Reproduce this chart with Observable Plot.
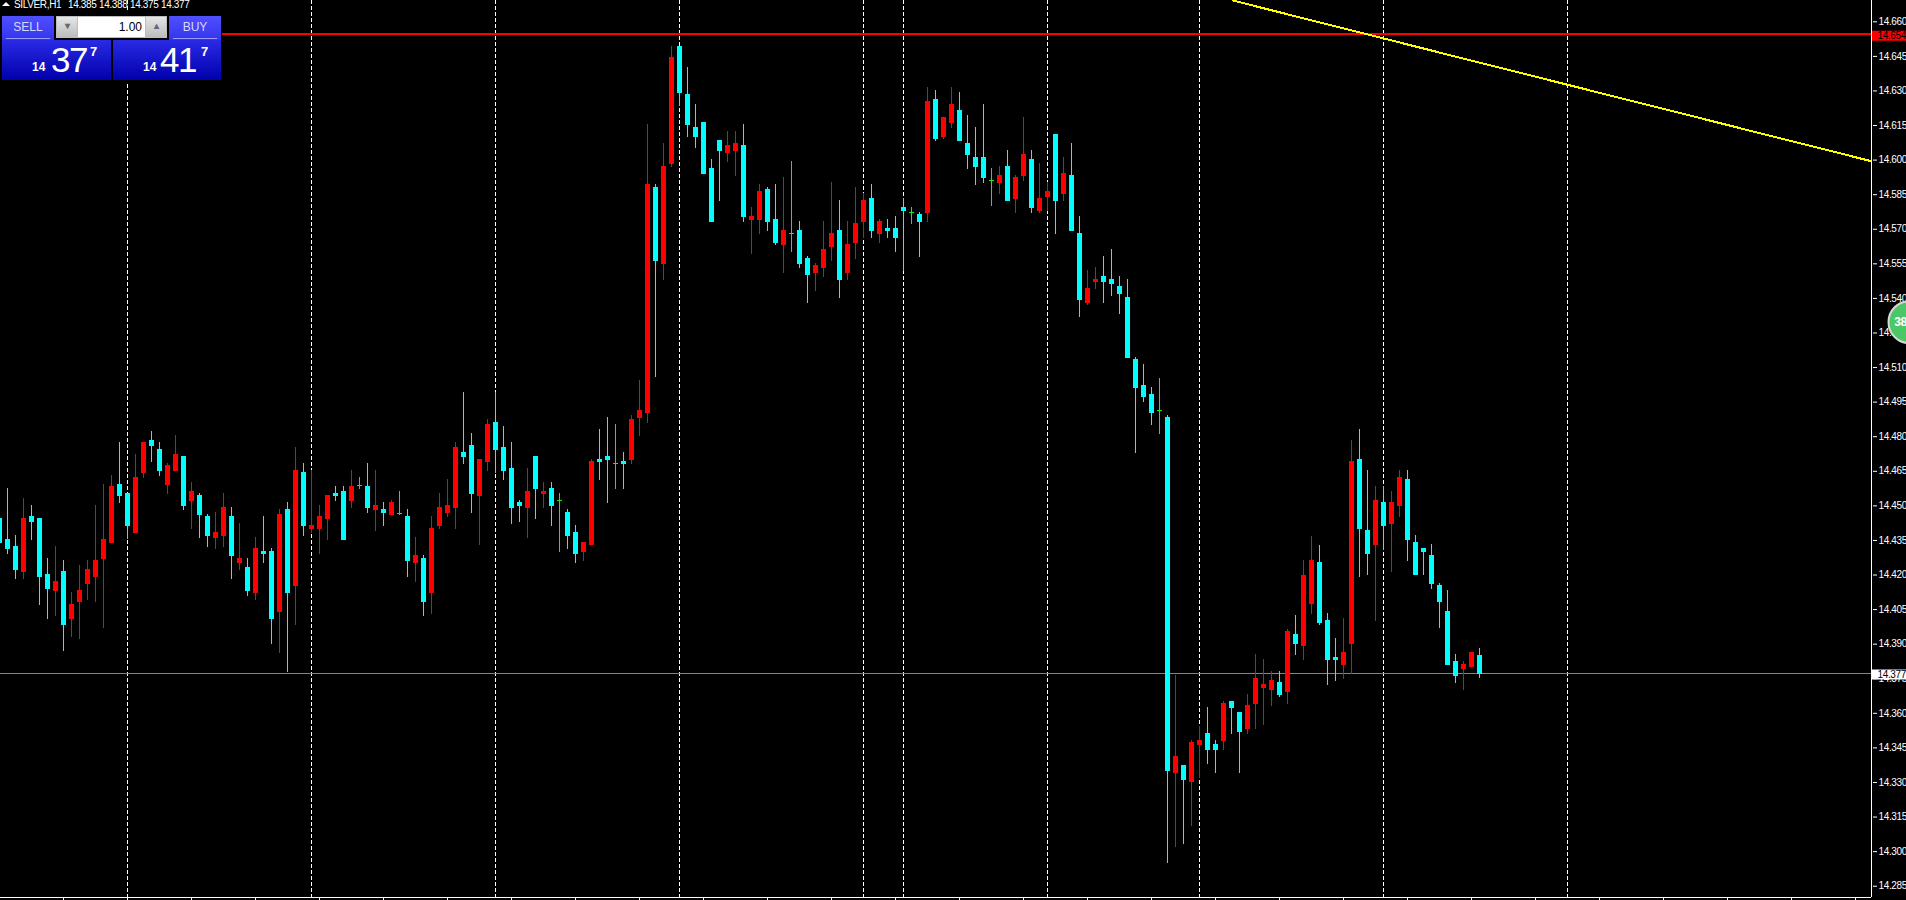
<!DOCTYPE html>
<html><head><meta charset="utf-8">
<script src="https://cdn.jsdelivr.net/npm/d3@7"></script>
<script src="https://cdn.jsdelivr.net/npm/@observablehq/plot@0.6"></script>
<style>
html,body{margin:0;padding:0;background:#000;overflow:hidden;width:1906px;height:900px}
body{position:relative;font-family:"Liberation Sans",Arial,sans-serif}
svg{display:block;position:absolute;left:0;top:0}
svg text{letter-spacing:-.35px}
.hd{position:absolute;top:0;color:#fff;font-size:10px;line-height:10px;letter-spacing:-.35px;white-space:pre}
.tp{position:absolute;width:0;height:0;border-left:4px solid transparent;border-right:4px solid transparent;border-bottom:4px solid #fff;left:2px;top:2px}
.p{position:absolute}
.btn{top:16px;height:24px;background:linear-gradient(#5050ff,#3434ee);color:#d8d8ff;font-size:12px;line-height:23px;text-align:center}
.btn i{position:absolute;left:4px;right:4px;bottom:1px;height:1px;background:#9a9aff}
.blk{top:40px;height:40px;background:linear-gradient(#2a2ae6,#0000ab);color:#fff}
.blk span{position:absolute}
.s14{font-size:12px;font-weight:bold;top:21px;line-height:12px}
.big{font-size:35px;top:3px;line-height:34px;letter-spacing:-1.5px}
.s7{font-size:13px;font-weight:bold;top:5px;line-height:13px}
.amt{left:56px;top:16px;width:111px;height:22px;background:#bdbdbd}
.amt b{position:absolute;top:1px;height:20px;background:linear-gradient(#e6e6e6,#bcbcbc)}
</style></head><body>
<div id="chart"></div>
<div class="p" style="left:0;top:10px;width:222px;height:72px;background:#000"></div>
<div class="tp"></div>
<div class="hd" style="left:14px">SILVER,H1</div>
<div class="hd" style="left:68px">14.385</div>
<div class="hd" style="left:99px">14.388</div>
<div class="hd" style="left:130px">14.375</div>
<div class="hd" style="left:161px">14.377</div>
<div class="p btn" style="left:2px;width:52px">SELL<i></i></div>
<div class="p btn" style="left:169px;width:52px">BUY<i></i></div>
<div class="p amt">
 <b style="left:1px;width:20px;color:#667;font-size:10px;line-height:18px;text-align:center">▾</b>
 <b style="left:22px;width:67px;background:#fff;color:#000;font-weight:normal;font-size:12px;line-height:21px;text-align:right;box-sizing:border-box;padding-right:3px">1.00</b>
 <b style="left:90px;width:20px;color:#667;font-size:10px;line-height:18px;text-align:center">▴</b>
</div>
<div class="p blk" style="left:2px;width:109px"><span class="s14" style="left:30px">14</span><span class="big" style="left:49px">37</span><span class="s7" style="left:88px">7</span></div>
<div class="p blk" style="left:113px;width:108px"><span class="s14" style="left:30px">14</span><span class="big" style="left:47px">41</span><span class="s7" style="left:88px">7</span></div>
<script>
const opens=[14.4445,
14.4354,14.4324,14.4211,14.4454,14.4445,14.4202,14.4128,14.4215,14.4007,14.4081,
14.4159,14.4189,14.4267,14.4337,14.4593,14.4554,14.4380,14.4640,14.4784,14.4744,
14.4588,14.4649,14.4714,14.4519,14.4545,14.4454,14.4358,14.4367,14.4454,14.4250,
14.4233,14.4120,14.4302,14.4302,14.4037,14.4484,14.4150,14.4645,14.4397,14.4397,
14.4441,14.4554,14.4562,14.4519,14.4590,14.4584,14.4480,14.4484,14.4458,14.4468,
14.4454,14.4250,14.4272,14.4120,14.4410,14.4467,14.4489,14.4731,14.4762,14.4541,
14.4688,14.4862,14.4753,14.4662,14.4514,14.4488,14.4714,14.4549,14.4575,14.4522,
14.4471,14.4384,14.4298,14.4328,14.4701,14.4714,14.4682,14.4692,14.4697,14.4879,
14.4901,14.5881,14.5547,14.5981,14.6493,14.6285,14.6142,14.6163,14.5964,14.6085,
14.6029,14.6037,14.6063,14.5738,14.5738,14.5872,14.5742,14.5630,14.5680,14.5695,
14.5573,14.5508,14.5530,14.5621,14.5695,14.5508,14.5638,14.5729,14.5834,14.5677,
14.5703,14.5703,14.5794,14.5771,14.5764,14.5768,14.6263,14.6098,14.6159,14.6215,
14.6072,14.6011,14.6011,14.5910,14.5899,14.5972,14.5829,14.5929,14.6003,14.5777,
14.5838,14.6111,14.5851,14.5933,14.5682,14.5378,14.5469,14.5495,14.5482,14.5452,
14.5404,14.5135,14.5022,14.4983,14.4912,14.4883,14.3339,14.3374,14.3300,14.3460,
14.3512,14.3465,14.3478,14.3651,14.3604,14.3530,14.3638,14.3708,14.3699,14.3734,
14.3690,14.3942,14.3890,14.4072,14.4254,14.4003,14.3842,14.3807,14.3899,14.4701,
14.4393,14.4328,14.4515,14.4419,14.4497,14.4614,14.4341,14.4315,14.4285,14.4155,
14.4042,14.3825,14.3790,14.3799,14.385];
const highs=[14.4470,
14.4575,14.4371,14.4532,14.4502,14.4445,14.4272,14.4324,14.4263,14.4124,14.4241,
14.4263,14.4502,14.4593,14.4632,14.4775,14.4554,14.4723,14.4775,14.4823,14.4775,
14.4684,14.4805,14.4714,14.4601,14.4554,14.4462,14.4471,14.4554,14.4493,14.4423,
14.4272,14.4363,14.4454,14.4315,14.4484,14.4514,14.4753,14.4684,14.4653,14.4502,
14.4545,14.4584,14.4584,14.4653,14.4623,14.4684,14.4653,14.4514,14.4523,14.4562,
14.4484,14.4363,14.4285,14.4454,14.4554,14.4614,14.4775,14.4992,14.4814,14.4701,
14.4875,14.4992,14.4844,14.4775,14.4523,14.4662,14.4714,14.4601,14.4601,14.4554,
14.4484,14.4415,14.4341,14.4701,14.4831,14.4883,14.4853,14.4731,14.4892,14.5044,
14.6154,14.5894,14.6072,14.6493,14.6493,14.6402,14.6241,14.6163,14.6003,14.6085,
14.6124,14.6124,14.6154,14.5794,14.5894,14.5881,14.5894,14.5925,14.5994,14.5734,
14.5582,14.5551,14.5734,14.5903,14.5825,14.5734,14.5881,14.5855,14.5894,14.5742,
14.5742,14.5755,14.5834,14.5794,14.5773,14.6315,14.6302,14.6185,14.6315,14.6293,
14.6194,14.6142,14.6241,14.5964,14.5972,14.6042,14.5933,14.6185,14.6042,14.5985,
14.5903,14.6111,14.6011,14.6072,14.5755,14.5521,14.5534,14.5582,14.5612,14.5495,
14.5482,14.5144,14.5113,14.5014,14.5053,14.4892,14.3764,14.3374,14.3482,14.3543,
14.3625,14.3482,14.3651,14.3651,14.3604,14.3682,14.3855,14.3833,14.3781,14.3781,
14.3964,14.4024,14.4263,14.4367,14.4330,14.4033,14.3925,14.4011,14.4784,14.4831,
14.4653,14.4584,14.4584,14.4562,14.4653,14.4653,14.4371,14.4315,14.4332,14.4163,
14.4133,14.3855,14.3825,14.3864,14.388];
const lows=[14.4300,
14.4289,14.4180,14.4180,14.4350,14.4068,14.4007,14.4020,14.3868,14.3929,14.3920,
14.4089,14.4081,14.3968,14.4337,14.4510,14.4354,14.4380,14.4619,14.4688,14.4627,
14.4549,14.4649,14.4480,14.4397,14.4358,14.4319,14.4311,14.4319,14.4180,14.4220,
14.4107,14.4089,14.4250,14.3898,14.3859,14.3777,14.3981,14.4367,14.4380,14.4289,
14.4350,14.4519,14.4350,14.4489,14.4571,14.4467,14.4389,14.4410,14.4458,14.4458,
14.4189,14.4167,14.4020,14.4029,14.4397,14.4449,14.4397,14.4679,14.4467,14.4328,
14.4649,14.4640,14.4610,14.4419,14.4428,14.4358,14.4441,14.4488,14.4410,14.4298,
14.4311,14.4250,14.4259,14.4328,14.4610,14.4510,14.4571,14.4571,14.4679,14.4801,
14.4857,14.5057,14.5478,14.5968,14.6233,14.6098,14.6050,14.5938,14.5729,14.5820,
14.5990,14.5929,14.5729,14.5591,14.5677,14.5690,14.5630,14.5508,14.5599,14.5530,
14.5378,14.5430,14.5491,14.5560,14.5400,14.5478,14.5569,14.5660,14.5660,14.5638,
14.5660,14.5599,14.5517,14.5721,14.5577,14.5729,14.6081,14.6089,14.6137,14.6081,
14.5959,14.5890,14.5899,14.5799,14.5851,14.5820,14.5768,14.5907,14.5768,14.5768,
14.5777,14.5677,14.5820,14.5690,14.5317,14.5369,14.5439,14.5378,14.5408,14.5330,
14.5139,14.4726,14.4948,14.4849,14.4810,14.2948,14.3018,14.3031,14.3109,14.3317,
14.3378,14.3339,14.3439,14.3508,14.3339,14.3508,14.3530,14.3547,14.3630,14.3669,
14.3638,14.3851,14.3829,14.4030,14.3981,14.3721,14.3738,14.3747,14.3768,14.4189,
14.4198,14.3998,14.4306,14.4211,14.4449,14.4259,14.4198,14.4198,14.4137,14.3968,
14.3807,14.3729,14.3699,14.3799,14.375];
const closes=[14.4337,
14.4311,14.4220,14.4445,14.4428,14.4189,14.4137,14.4172,14.3981,14.4072,14.4133,
14.4224,14.4263,14.4354,14.4584,14.4541,14.4410,14.4623,14.4775,14.4757,14.4649,
14.4675,14.4723,14.4497,14.4562,14.4458,14.4367,14.4384,14.4493,14.4280,14.4272,
14.4128,14.4315,14.4289,14.4007,14.4462,14.4120,14.4653,14.4410,14.4415,14.4454,
14.4545,14.4541,14.4350,14.4584,14.4590,14.4489,14.4502,14.4467,14.4514,14.4468,
14.4259,14.4285,14.4081,14.4402,14.4493,14.4502,14.4753,14.4710,14.4549,14.4701,
14.4853,14.4740,14.4649,14.4488,14.4497,14.4562,14.4571,14.4562,14.4497,14.4522,
14.4367,14.4289,14.4341,14.4692,14.4688,14.4697,14.4682,14.4679,14.4875,14.4914,
14.5894,14.5560,14.5972,14.6445,14.6289,14.6150,14.6098,14.5938,14.5729,14.6037,
14.6063,14.6072,14.5751,14.5755,14.5864,14.5729,14.5638,14.5695,14.5680,14.5547,
14.5499,14.5543,14.5612,14.5682,14.5478,14.5634,14.5725,14.5825,14.5690,14.5734,
14.5690,14.5660,14.5777,14.5771,14.5729,14.6254,14.6089,14.6185,14.6241,14.6081,
14.6020,14.5968,14.5920,14.5910,14.5933,14.5820,14.5925,14.6024,14.5790,14.5834,
14.5864,14.5820,14.5942,14.5690,14.5391,14.5443,14.5482,14.5469,14.5460,14.5417,
14.5139,14.5009,14.4970,14.4901,14.4912,14.3348,14.3413,14.3309,14.3473,14.3482,
14.3439,14.3439,14.3643,14.3621,14.3517,14.3634,14.3751,14.3725,14.3742,14.3677,
14.3955,14.3899,14.4198,14.4261,14.3990,14.3829,14.3829,14.3864,14.4692,14.4397,
14.4289,14.4523,14.4410,14.4515,14.4623,14.4350,14.4198,14.4298,14.4159,14.4081,
14.3807,14.3760,14.3812,14.3864,14.377];

const firstBar=-1;
const separators=[15,38,61,84,107,112,130,149,172,195];
const priceTicks=[14.660,14.645,14.630,14.615,14.600,14.585,14.570,14.555,14.540,14.525,14.510,14.495,14.480,14.465,14.450,14.435,14.420,14.405,14.390,14.375,14.360,14.345,14.330,14.315,14.300,14.285];
const timeTicks=[7,15,23,31,39,47,55,63,71,79,87,95,103,111,119,127,135,143,151,159,167,175,183,191,199,207,215,223,231];
const resistance=14.6545, resistanceLabel="14.654";
const bid=14.377, bidLabel="14.377";
const trendBar=[153.2,233], trendPrice=[14.6692,14.5995];
const badgeBar=237.75, badgePrice=14.5297, badgeLabel="38";

const bars=opens.map((o,i)=>{
  const c=closes[i];
  return {k:i+firstBar,o,c,h:highs[i],l:lows[i],col:c>o?"#ff0000":c<o?"#00ffff":"#00ff00"};
});
const solid=bars.filter(d=>d.o!==d.c), doji=bars.filter(d=>d.o===d.c);
const edge=233, tag=237.4;

const chart=Plot.plot({
  width:1906,height:900,marginLeft:0,marginRight:34,marginTop:0,marginBottom:3,
  style:{background:"#000",color:"#fff",fontFamily:"'Liberation Sans',Arial,sans-serif",fontSize:"10px"},
  x:{type:"linear",domain:[-0.875,233.125],axis:null},
  y:{type:"linear",domain:[14.2801,14.66924],axis:null},
  color:{type:"identity"},
  marks:[
    Plot.ruleX(separators,{stroke:"#fff",strokeDasharray:"4,2",shapeRendering:"crispEdges"}),
    Plot.ruleY([bid],{stroke:"#778899",dy:-0.5,shapeRendering:"crispEdges"}),
    Plot.ruleY([resistance],{stroke:"#ff0000",strokeWidth:2,shapeRendering:"crispEdges"}),
    Plot.ruleX(bars,{x:"k",y1:"l",y2:"h",stroke:"col",shapeRendering:"crispEdges"}),
    Plot.rect(solid,{x1:d=>d.k-0.25,x2:d=>d.k+0.375,y1:"o",y2:"c",fill:"col",shapeRendering:"crispEdges"}),
    Plot.ruleY(doji,{y:"o",x1:d=>d.k-0.3125,x2:d=>d.k+0.3125,stroke:"col",shapeRendering:"crispEdges"}),
    Plot.line(trendBar.map((b,i)=>({b,p:trendPrice[i]})),{x:"b",y:"p",stroke:"#ffff00",strokeWidth:2,shapeRendering:"crispEdges"}),
    Plot.ruleX([edge],{stroke:"#fff"}),
    Plot.ruleY([14.2801],{x1:-0.875,x2:edge,stroke:"#fff"}),
    Plot.axisX({anchor:"bottom",ticks:timeTicks,tickSize:3,tickFormat:()=>"",label:null,stroke:"#fff"}),
    Plot.axisY({anchor:"right",ticks:priceTicks,tickSize:4,tickPadding:2,tickFormat:d3.format(".3f"),label:null,stroke:"#fff",fill:"#fff"}),
    Plot.ruleY([resistance-0.0005],{x1:edge+0.125,x2:tag,stroke:"#ff0000",strokeWidth:10}),
    Plot.text([resistanceLabel],{x:edge+0.125,y:resistance-0.0005,dx:5,text:d=>d,textAnchor:"start",fill:"#000"}),
    Plot.ruleY([bid-0.0002],{x1:edge+0.125,x2:tag,stroke:"#fff",strokeWidth:10}),
    Plot.text([bidLabel],{x:edge+0.125,y:bid-0.0002,dx:5,text:d=>d,textAnchor:"start",fill:"#000"}),
    Plot.dot([badgeLabel],{x:badgeBar,y:badgePrice,r:21,fill:"#4cc768",stroke:"#d8d8d8",strokeWidth:2}),
    Plot.text([badgeLabel],{x:badgeBar,y:badgePrice,dx:-9,text:d=>d,fill:"#fff",fontWeight:"bold",fontSize:12})
  ]
});
document.getElementById("chart").appendChild(chart);
</script>
</body></html>
